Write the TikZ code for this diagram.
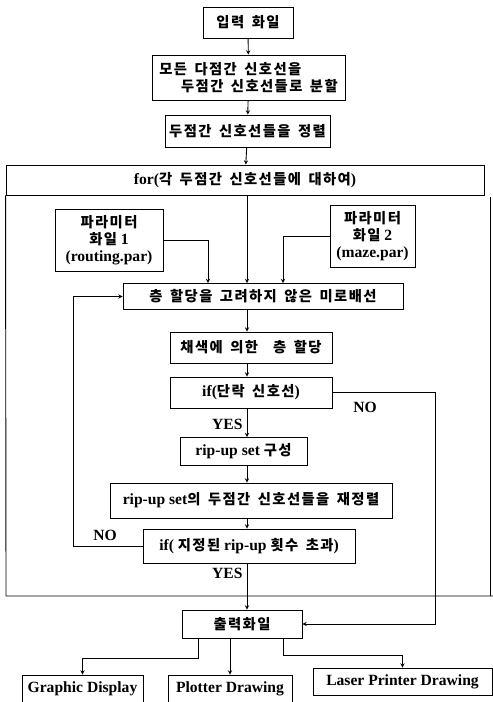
\documentclass[tikz,border=0pt]{standalone}
\usepackage{fontspec}
\setmainfont{Liberation Serif}[Scale=1.2]
\newfontfamily\krfont{Noto Sans CJK KR}[Scale=1.1, LetterSpace=10, WordSpace=1.6]
\newcommand{\ko}[1]{{\krfont #1}}

\begin{document}
\begin{tikzpicture}[x=1pt, y=-1pt, >=stealth, line width=0.9pt,
    box/.style={draw, rectangle, align=center, inner sep=2pt,
      font=\fontsize{13}{17}\selectfont\bfseries},
    lbl/.style={font=\fontsize{13}{15}\selectfont\bfseries}]
  \useasboundingbox (0,0) rectangle (493,702);
  \coordinate (spine) at (247,0);
  \coordinate (noRight) at (435,0);
  \coordinate (noLeft) at (73,0);

  % main flow
  \node[box, minimum width=90, minimum height=31] (input) at (248,22.5) {\ko{입력 화일}};
  \node[box, minimum width=193, minimum height=45, align=left] (split) at (248.5,77.5)
    {\ko{모든 다점간 신호선을}\\\hspace*{1.4em}\ko{두점간 신호선들로 분할}};
  \node[box, minimum width=165, minimum height=32] (sort) at (247.5,131) {\ko{두점간 신호선들을 정렬}};
  \node[box, minimum width=478, minimum height=30] (forhdr) at (245,180)
    {for(\ko{각 두점간 신호선들에 대하여})};

  % parameter files
  \node[box, minimum width=108, minimum height=62] (par1) at (109,240)
    {\ko{파라미터}\\\ko{화일} 1\\(routing.par)};
  \node[box, minimum width=85, minimum height=62] (par2) at (372.5,236)
    {\ko{파라미터}\\\ko{화일} 2\\(maze.par)};

  \node[box, minimum width=280, minimum height=26] (route) at (263,296.5)
    {\ko{층 할당을 고려하지 않은 미로배선}};
  \node[box, minimum width=162, minimum height=31] (color) at (251,347.5) {\ko{채색에 의한 \ 층 할당}};
  \node[box, minimum width=162, minimum height=31] (ifshort) at (251,392.5) {if(\ko{단락 신호선})};
  \node[box, minimum width=127, minimum height=28] (ripset) at (243.5,451.5) {rip-up set \ko{구성}};
  \node[box, minimum width=282, minimum height=35, inner sep=1pt] (reorder) at (251,500.5)
    {rip-up set\ko{의 두점간 신호선들을 재정렬}};
  \node[box, minimum width=212, minimum height=34] (iflimit) at (249,546)
    {if( \ko{지정된} rip-up \ko{횟수 초과})};

  % output
  \node[box, minimum width=120, minimum height=28] (output) at (242,624) {\ko{출력화일}};
  \node[box, minimum width=121, minimum height=28] (gd) at (82.5,689) {Graphic Display};
  \node[box, minimum width=124, minimum height=28] (pd) at (230,689) {Plotter Drawing};
  \node[box, minimum width=179, minimum height=27] (lp) at (402.5,681.5) {Laser Printer Drawing};

  % loop frame
  \draw (forhdr.south west) -- (6,596) -- (493,596);
  \draw (490,197) -- (490,596);

  % connectors
  \draw[->] (input) -- (split);
  \draw[->] (split) -- (sort);
  \draw[->] (sort) -- (forhdr);
  \draw[->] (forhdr.south -| spine) -- (route.north -| spine);
  \draw[->] (par1.east) -| ([xshift=-55pt]route.north);
  \draw[->] (par2.west) -| ([xshift=20pt]route.north);
  \draw[->] (route.south -| spine) -- (color.north -| spine);
  \draw[->] (color.south -| spine) -- (ifshort.north -| spine);
  \draw[->] (ifshort.south -| spine) -- node[lbl, left, pos=0.55] {YES} (ripset.north -| spine);
  \draw[->] (ripset.south -| spine) -- (reorder.north -| spine);
  \draw[->] (reorder.south -| spine) -- (iflimit.north -| spine);
  \draw[->] (iflimit.south -| spine) -- node[lbl, left, pos=0.22] {YES} ([xshift=5pt]output.north);
  \draw[->] (ifshort.east) -| (noRight |- output.east) -- (output.east);
  \draw[->] (iflimit.west) -| (noLeft |- route.west) -- (route.west);
  \node[lbl] (noA) at (365,407) {NO};
  \node[lbl] (noB) at (105,535) {NO};

  \draw[->] ([xshift=-44pt]output.south) -- ++(0,20) -| (gd.north);
  \draw[->] (output.south -| pd.north) -- (pd.north);
  \draw[->] ([xshift=41pt]output.south) -- ++(0,17) -| (lp.north);
\end{tikzpicture}
\end{document}
